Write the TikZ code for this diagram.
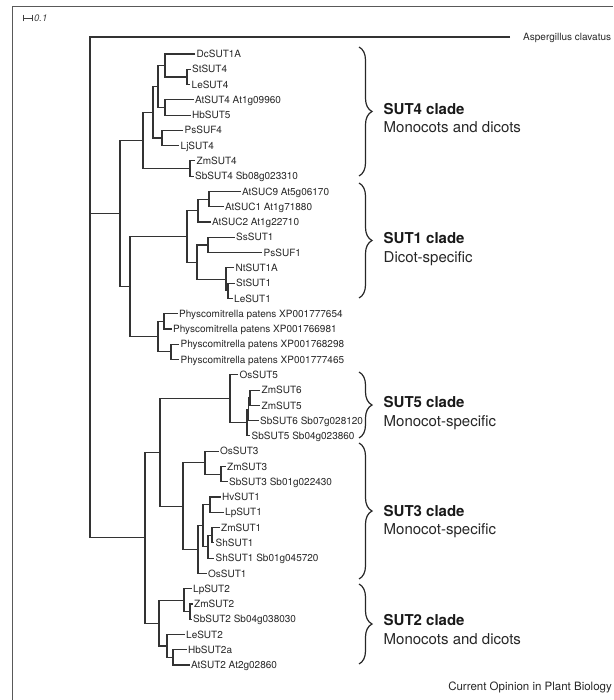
\documentclass[tikz,border=0pt]{standalone}
\usepackage{fontspec}
\setmainfont{TeX Gyre Heros}
\usetikzlibrary{decorations.pathreplacing}

\begin{document}
\begin{tikzpicture}[x=1pt, y=-1pt,
        branch/.style={line width=1.1pt, draw=black!80},
        leaf/.style={anchor=west, inner sep=1.5pt, text=black!85,
            font=\fontsize{10}{12}\selectfont, text height=7.2pt, text depth=0pt},
        cladetitle/.style={anchor=west, inner sep=0pt, text=black!90,
            font=\fontsize{15}{18}\selectfont\bfseries, text height=10.8pt, text depth=0pt},
        cladenote/.style={anchor=west, inner sep=0pt, text=black!85,
            font=\fontsize{15}{18}\selectfont, text height=10.8pt, text depth=0pt},
        cladebrace/.style={decorate, decoration={brace, amplitude=13pt}, line width=1.2pt, draw=black!85}]
            \useasboundingbox (0,0) rectangle (613,700);
            \draw [line width=0.8pt, black!65] (12,700) |- (613,6);

            \coordinate (bar) at (23,18);
            \node [anchor=west, inner sep=1pt, text=black!75, font=\fontsize{9.5}{11}\selectfont\itshape] (unit) at (33,18) {0.1};
            \draw [|-|, line width=0.7pt, black!75] (bar) -- (unit.west);

            \node [leaf, inner xsep=13pt] (Asp) at (510,37) {Aspergillus clavatus};

            \node [leaf] (Dc4a) at (195,54.0)   {DcSUT1A};
            \node [leaf] (St4)  at (190.5,69.3) {StSUT4};
            \node [leaf] (Le4)  at (190,84.6)   {LeSUT4};
            \node [leaf] (At4)  at (193.5,99.8) {AtSUT4 At1g09960};
            \node [leaf] (Hb5)  at (190.5,115.1) {HbSUT5};
            \node [leaf] (PsF4) at (183,130.4)  {PsSUF4};
            \node [leaf] (Lj4)  at (179,145.7)  {LjSUT4};
            \node [leaf] (Zm4)  at (195,160.9)  {ZmSUT4};
            \node [leaf] (Sb4)  at (193.5,176.2) {SbSUT4 Sb08g023310};

            \node [leaf] (AtC9) at (240.5,191.5) {AtSUC9 At5g06170};
            \node [leaf] (AtC1) at (223.5,206.8) {AtSUC1 At1g71880};
            \node [leaf] (AtC2) at (210.5,222.0) {AtSUC2 At1g22710};
            \node [leaf] (Ss1)  at (234.5,237.3) {SsSUT1};
            \node [leaf] (PsF1) at (262,252.6)   {PsSUF1};
            \node [leaf] (Nt1)  at (234,267.9)   {NtSUT1A};
            \node [leaf] (St1)  at (234.5,283.1) {StSUT1};
            \node [leaf] (Le1)  at (232.5,298.4) {LeSUT1};

            \node [leaf] (Pp1)  at (177.5,313.7) {Physcomitrella patens XP001777654};
            \node [leaf] (Pp2)  at (171.5,329.0) {Physcomitrella patens XP001766981};
            \node [leaf] (Pp3)  at (179,344.3)   {Physcomitrella patens XP001768298};
            \node [leaf] (Pp4)  at (179,359.5)   {Physcomitrella patens XP001777465};

            \node [leaf] (Os5)  at (238,374.8)   {OsSUT5};
            \node [leaf] (Zm6)  at (260,390.1)   {ZmSUT6};
            \node [leaf] (Zm5)  at (260,405.4)   {ZmSUT5};
            \node [leaf] (Sb6)  at (258.5,420.6) {SbSUT6 Sb07g028120};
            \node [leaf] (Sb5)  at (250,435.9)   {SbSUT5 Sb04g023860};

            \node [leaf] (Os3)  at (218.5,451.2) {OsSUT3};
            \node [leaf] (Zm3)  at (225.5,466.5) {ZmSUT3};
            \node [leaf] (Sb3)  at (227.5,481.7) {SbSUT3 Sb01g022430};
            \node [leaf] (Hv1)  at (220.5,497.0) {HvSUT1};
            \node [leaf] (Lp1)  at (223.5,512.3) {LpSUT1};
            \node [leaf] (Zm1)  at (219.5,527.6) {ZmSUT1};
            \node [leaf] (Sh1)  at (214,542.9)   {ShSUT1};
            \node [leaf] (Sh1b) at (214,558.1)   {ShSUT1 Sb01g045720};
            \node [leaf] (Os1)  at (206.5,573.4) {OsSUT1};

            \node [leaf] (Lp2)  at (191.5,588.7) {LpSUT2};
            \node [leaf] (Zm2)  at (192.5,604.0) {ZmSUT2};
            \node [leaf] (Sb2)  at (191.5,619.2) {SbSUT2 Sb04g038030};
            \node [leaf] (Le2)  at (184.5,634.5) {LeSUT2};
            \node [leaf] (Hb2)  at (186.5,649.8) {HbSUT2a};
            \node [leaf] (At2)  at (189.5,665.0) {AtSUT2 At2g02860};

            \coordinate (root) at (90,213.5);
            \coordinate (n1) at (120,213.5);
            \coordinate (n2) at (130,286.5);
            \coordinate (s8) at (143,140.4);
            \coordinate (s6) at (153,112.3);
            \coordinate (s4) at (158,86.5);
            \coordinate (s2) at (165,65.5);
            \coordinate (s1) at (187,77.0);
            \coordinate (s3) at (165,107.5);
            \coordinate (s5) at (162,138.0);
            \coordinate (s7) at (190,168.6);
            \coordinate (u7) at (187,236.4);
            \coordinate (u2) at (198,210.6);
            \coordinate (u1) at (209,199.1);
            \coordinate (u6) at (197,262.2);
            \coordinate (u3) at (208,245.0);
            \coordinate (u5) at (226,279.3);
            \coordinate (u4) at (228,290.8);
            \coordinate (p3) at (158,336.6);
            \coordinate (p1) at (164,321.3);
            \coordinate (p2) at (171,351.9);
            \coordinate (m1) at (145,537.8);
            \coordinate (m2) at (160,452.5);
            \coordinate (v4) at (230,398.7);
            \coordinate (v3) at (247,422.6);
            \coordinate (v2) at (248.5,409.2);
            \coordinate (v1) at (250,397.8);
            \coordinate (w8) at (183,506.2);
            \coordinate (w2) at (205,462.7);
            \coordinate (w1) at (221,474.1);
            \coordinate (w7) at (198,549.6);
            \coordinate (w6) at (203,525.7);
            \coordinate (w3) at (210,504.7);
            \coordinate (w5) at (208,546.7);
            \coordinate (w4) at (212,535.3);
            \coordinate (x5) at (159,623.1);
            \coordinate (x2) at (184,600.2);
            \coordinate (x1) at (190,611.6);
            \coordinate (x4) at (167,646.0);
            \coordinate (x3) at (173,657.4);

            \draw [branch] (Asp) -| (root) |- (m1);
            \draw [branch] (root) -- (n1);
            \draw [branch] (s8) -| (n1) |- (n2);

            \draw [branch] (s6) -| (s8) |- (s7);
            \draw [branch] (s4) -| (s6) |- (s5);
            \draw [branch] (s2) -| (s4) |- (s3);
            \draw [branch] (Dc4a) -| (s2) |- (s1);
            \draw [branch] (St4) -| (s1) |- (Le4);
            \draw [branch] (At4) -| (s3) |- (Hb5);
            \draw [branch] (PsF4) -| (s5) |- (Lj4);
            \draw [branch] (Zm4) -| (s7) |- (Sb4);

            \draw [branch] (u7) -| (n2) |- (p3);
            \draw [branch] (u2) -| (u7) |- (u6);
            \draw [branch] (u1) -| (u2) |- (AtC2);
            \draw [branch] (AtC9) -| (u1) |- (AtC1);
            \draw [branch] (u3) -| (u6) |- (u5);
            \draw [branch] (Ss1) -| (u3) |- (PsF1);
            \draw [branch] (Nt1) -| (u5) |- (u4);
            \draw [branch] (St1) -| (u4) |- (Le1);
            \draw [branch] (p1) -| (p3) |- (p2);
            \draw [branch] (Pp1) -| (p1) |- (Pp2);
            \draw [branch] (Pp3) -| (p2) |- (Pp4);

            \draw [branch] (m2) -| (m1) |- (x5);
            \draw [branch] (v4) -| (m2) |- (w8);
            \draw [branch] (Os5) -| (v4) |- (v3);
            \draw [branch] (v2) -| (v3) |- (Sb5);
            \draw [branch] (v1) -| (v2) |- (Sb6);
            \draw [branch] (Zm6) -| (v1) |- (Zm5);
            \draw [branch] (w2) -| (w8) |- (w7);
            \draw [branch] (Os3) -| (w2) |- (w1);
            \draw [branch] (Zm3) -| (w1) |- (Sb3);
            \draw [branch] (w6) -| (w7) |- (Os1);
            \draw [branch] (w3) -| (w6) |- (w5);
            \draw [branch] (Hv1) -| (w3) |- (Lp1);
            \draw [branch] (w4) -| (w5) |- (Sh1b);
            \draw [branch] (Zm1) -| (w4) |- (Sh1);
            \draw [branch] (x2) -| (x5) |- (x4);
            \draw [branch] (Lp2) -| (x2) |- (x1);
            \draw [branch] (Zm2) -| (x1) |- (Sb2);
            \draw [branch] (Le2) -| (x4) |- (x3);
            \draw [branch] (Hb2) -| (x3) |- (At2);

            \draw [cladebrace] (359,47)  -- (359,176);
            \draw [cladebrace] (359,183) -- (359,298);
            \draw [cladebrace] (359,372) -- (359,438);
            \draw [cladebrace] (359,443) -- (359,579);
            \draw [cladebrace] (359,584) -- (359,664);

            \node [cladetitle] (T4) at (383.5,109) {SUT4 clade};
            \node [cladenote]  (N4) at (383.5,127) {Monocots and dicots};
            \node [cladetitle] (T1) at (383.5,238) {SUT1 clade};
            \node [cladenote]  (N1) at (383.5,257) {Dicot-specific};
            \node [cladetitle] (T5) at (383.5,402) {SUT5 clade};
            \node [cladenote]  (N5) at (383.5,421) {Monocot-specific};
            \node [cladetitle] (T3) at (383.5,511) {SUT3 clade};
            \node [cladenote]  (N3) at (383.5,529) {Monocot-specific};
            \node [cladetitle] (T2) at (383.5,620) {SUT2 clade};
            \node [cladenote]  (N2) at (383.5,639) {Monocots and dicots};

            \node [anchor=east, inner sep=0pt, text=black!85, font=\fontsize{11.5}{14}\selectfont] (src) at (612,687) {Current Opinion in Plant Biology};
        \end{tikzpicture}
\end{document}
